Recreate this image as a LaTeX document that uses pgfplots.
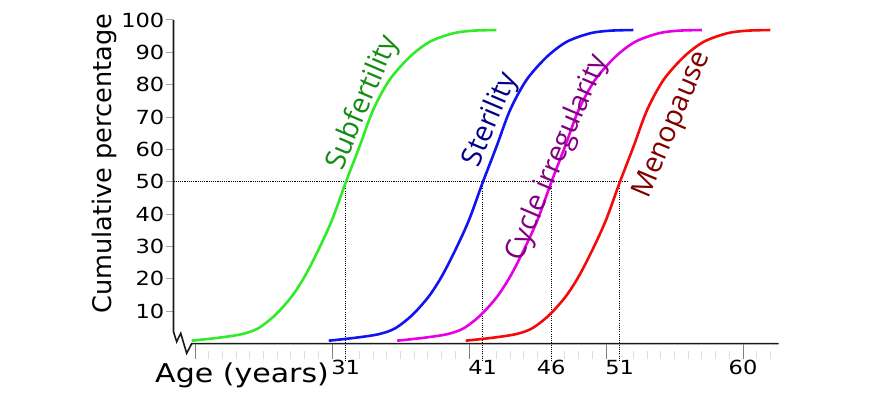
\documentclass[border=0pt]{standalone}
\usepackage{pgfplots}
\pgfplotsset{compat=1.18}
\usepackage{fontspec}
\setmainfont[FakeStretch=1.16]{DejaVu Sans}
\newfontfamily\plainfont{DejaVu Sans}
\newfontfamily\labfont{Open Sans}
\definecolor{cgreen}{RGB}{50,235,40}
\definecolor{cblue}{RGB}{15,20,240}
\definecolor{cmag}{RGB}{230,0,230}
\definecolor{cred}{RGB}{245,10,10}
\definecolor{tgreen}{RGB}{20,140,20}
\definecolor{tblue}{RGB}{0,0,140}
\definecolor{tmag}{RGB}{128,0,128}
\definecolor{tred}{RGB}{128,0,0}
\tikzset{labnode/.style={rotate=67, anchor=base west, inner sep=0pt, font=\labfont\fontsize{28.5}{28.5}\selectfont}}
\begin{document}
\begin{tikzpicture}
\path[use as bounding box] (-173.5bp,-49.4bp) rectangle (696.5bp,343.6bp);
\begin{axis}[
  x=13.7bp, y=3.236bp,
  xmin=18.43, xmax=62.6, ymin=0, ymax=100,
  clip=false,
  axis line style={draw=none},
  tick pos=left,
  tick align=outside,
  major tick length=7bp,
  xtick={31,41,46,51,60},
  x tick style={draw=none},
  ytick={10,20,30,40,50,60,70,80,90,100},
  y tick style={color=gray!70, line width=1bp},
  /pgf/number format/assume math mode=true,
  tick label style={font=\fontsize{19.5}{20}\selectfont},
  xticklabel style={anchor=base, yshift=-24bp},
  yticklabel style={inner sep=2bp},
]
% axis lines with break mark
\draw[black!90, line width=1.6bp] (axis cs:18.43,100) -- (axis cs:18.43,3.68) -- (axis cs:18.66,0.59) -- (axis cs:18.96,3.18) -- (axis cs:19.39,-3.0) -- (axis cs:19.76,0) -- (axis cs:62.6,0);
% major x ticks
\pgfplotsinvokeforeach{20,30,40,50,60}{
  \draw[gray, line width=1bp] (axis cs:#1,0) -- ([yshift=-15bp]axis cs:#1,0);
}
% minor x ticks
\pgfplotsinvokeforeach{21,22,23,24,25,26,27,28,29,31,32,33,34,35,36,37,38,39,41,42,43,44,45,46,47,48,49,51,52,53,54,55,56,57,58,59,61,62}{
  \draw[gray!25, line width=1bp] ([yshift=-7bp]axis cs:#1,0) -- ([yshift=-15bp]axis cs:#1,0);
}
% dotted guide lines
\addplot[black, line width=1.1bp, dash pattern=on 1.1bp off 1.1bp] coordinates {(18.43,50) (51.64,50)};
\addplot[black, line width=1.1bp, dash pattern=on 1.1bp off 1.1bp] coordinates {(31,50) (31,-5.7)};
\addplot[black, line width=1.1bp, dash pattern=on 1.1bp off 1.1bp] coordinates {(41,50) (41,-5.7)};
\addplot[black, line width=1.1bp, dash pattern=on 1.1bp off 1.1bp] coordinates {(46,50) (46,-5.7)};
\addplot[black, line width=1.1bp, dash pattern=on 1.1bp off 1.1bp] coordinates {(51,50) (51,-5.7)};
% curves
\addplot[cgreen, line width=2.6bp, smooth] coordinates {(19.76,0.9)(21.7,1.8)(23.4,2.9)(24.6,4.7)(25.85,8.8)(27.05,14.5)(28.0,20.7)(29.0,28.9)(30.0,38.2)(31.0,49.8)(32.0,60.8)(33.0,72.2)(34.2,81.5)(35.7,88.7)(37.15,93.3)(38.85,95.9)(40.3,96.7)(42.0,96.9)};
\addplot[cblue, line width=2.6bp, smooth] coordinates {(29.76,0.9)(31.7,1.8)(33.4,2.9)(34.6,4.7)(35.85,8.8)(37.05,14.5)(38.0,20.7)(39.0,28.9)(40.0,38.2)(41.0,49.8)(42.0,60.8)(43.0,72.2)(44.2,81.5)(45.7,88.7)(47.15,93.3)(48.85,95.9)(50.3,96.7)(52.0,96.9)};
\addplot[cmag, line width=2.6bp, smooth] coordinates {(34.76,0.9)(36.7,1.8)(38.4,2.9)(39.6,4.7)(40.85,8.8)(42.05,14.5)(43.0,20.7)(44.0,28.9)(45.0,38.2)(46.0,49.8)(47.0,60.8)(48.0,72.2)(49.2,81.5)(50.7,88.7)(52.15,93.3)(53.85,95.9)(55.3,96.7)(57.0,96.9)};
\addplot[cred, line width=2.6bp, smooth] coordinates {(39.76,0.9)(41.7,1.8)(43.4,2.9)(44.6,4.7)(45.85,8.8)(47.05,14.5)(48.0,20.7)(49.0,28.9)(50.0,38.2)(51.0,49.8)(52.0,60.8)(53.0,72.2)(54.2,81.5)(55.7,88.7)(57.15,93.3)(58.85,95.9)(60.3,96.7)(62.0,96.9)};
% label anchor points
\coordinate (labA) at (axis cs:30.73,53.0);
\coordinate (labB) at (axis cs:40.66,54.2);
\coordinate (labC) at (axis cs:43.8,25.0);
\coordinate (labD) at (axis cs:53.09,44.5);
% axis labels
\node[anchor=base west, inner sep=0pt, font=\fontsize{26}{26}\selectfont] at ([yshift=-38.5bp]axis cs:17.08,0) {Age (years)};
\node[rotate=90, anchor=base, inner sep=0pt, font=\plainfont\fontsize{25.7}{26}\selectfont] at (axis cs:13.94,55.65) {Cumulative percentage};
\end{axis}
% curve labels
\node[labnode, text=tgreen] at (labA) {Subfertility};
\node[labnode, text=tblue] at (labB) {Sterility};
\node[labnode, text=tmag] at (labC) {Cycle irregularity};
\node[labnode, text=tred] at (labD) {Menopause};
\end{tikzpicture}
\end{document}
